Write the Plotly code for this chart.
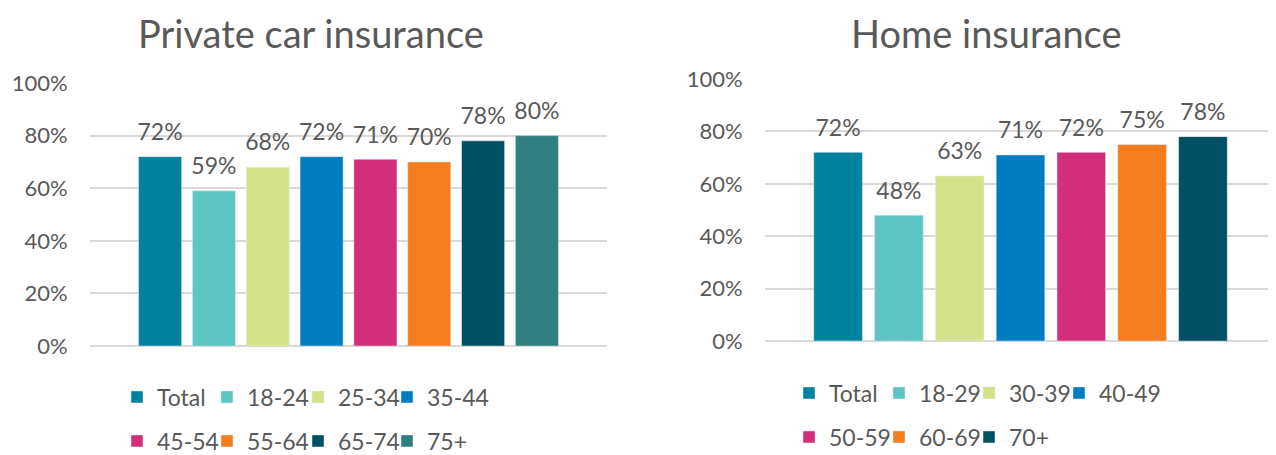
import plotly.graph_objects as go

car_groups = ["Total", "18-24", "25-34", "35-44", "45-54", "55-64", "65-74", "75+"]
car_values = [72, 59, 68, 72, 71, 70, 78, 80]

home_groups = ["Total", "18-29", "30-39", "40-49", "50-59", "60-69", "70+"]
home_values = [72, 48, 63, 71, 72, 75, 78]

colors = ["#00829F", "#5FC5C2", "#D4E38A", "#007CC3",
          "#D22F7B", "#F47D20", "#004F62", "#2E7F7E"]

grey = "#595959"

# the page body adds an 8px margin, so the figure is drawn 8px smaller
# and every pixel position below is taken from the 1276x455 layout minus 8
OFF = 8
W, H = 1276 - OFF, 455 - OFF


def px(x):
    return (x - OFF) / W


def py(y):
    return 1 - (y - OFF) / H


# legend spots (left edge of the swatch, row centre) in page pixels
car_cols = [141, 231, 322, 411]
car_rows = [397, 441]
home_cols = [813, 903, 993, 1083]
home_rows = [393, 437]

fig = go.Figure()
legends = {}


def label(v):
    # small blank second line lifts the label off the bar like Excel does
    return f"<span style='font-size:23px'>{v}%</span><br> "


n = 1
for i, (g, v) in enumerate(zip(car_groups, car_values)):
    n += 1
    key = f"legend{n}"
    legends[key] = dict(x=px(car_cols[i % 4] - 24), y=py(car_rows[i // 4]))
    fig.add_trace(go.Bar(
        x=["car"], y=[v], name=g,
        marker_color=colors[i],
        text=[label(v)], textposition="outside", constraintext="none",
        textfont=dict(size=9, color=grey),
        cliponaxis=False,
        xaxis="x", yaxis="y", legend=key,
    ))

for i, (g, v) in enumerate(zip(home_groups, home_values)):
    n += 1
    key = f"legend{n}"
    legends[key] = dict(x=px(home_cols[i % 4] - 24), y=py(home_rows[i // 4]))
    fig.add_trace(go.Bar(
        x=["home"], y=[v], name=g,
        marker_color=colors[i],
        text=[label(v)], textposition="outside", constraintext="none",
        textfont=dict(size=9, color=grey),
        cliponaxis=False,
        xaxis="x2", yaxis="y2", legend=key,
    ))

yax = dict(range=[0, 100], dtick=20, ticksuffix="%",
           showgrid=True, gridcolor="#D9D9D9", gridwidth=1.5,
           zeroline=True, zerolinecolor="#D9D9D9", zerolinewidth=1.5,
           showline=False, ticks="outside", ticklen=17,
           tickcolor="rgba(0,0,0,0)", tickfont=dict(size=22, color=grey))
xax = dict(showticklabels=False, showgrid=False, zeroline=False, showline=False)

for key, pos in legends.items():
    legends[key] = dict(orientation="h", xanchor="left", yanchor="middle",
                        font=dict(size=23, color=grey), bgcolor="rgba(0,0,0,0)",
                        **pos)

fig.update_layout(
    width=W, height=H,
    margin=dict(l=0, r=0, t=0, b=0, autoexpand=False),
    paper_bgcolor="white", plot_bgcolor="white",
    font=dict(family="Lato", color=grey),
    barmode="group", bargap=0.167, bargroupgap=0.2,
    xaxis=dict(domain=[px(90), px(607)], **xax),
    xaxis2=dict(domain=[px(765), 1.0], **xax),
    yaxis=dict(domain=[py(346), py(83)], anchor="x", **yax),
    yaxis2=dict(domain=[py(341), py(79)], anchor="x2", **yax),
    annotations=[
        dict(text="Private car insurance", x=px(311), y=1,
             xref="paper", yref="paper", showarrow=False,
             xanchor="center", yanchor="top",
             font=dict(size=38, color=grey)),
        dict(text="Home insurance", x=px(986), y=1,
             xref="paper", yref="paper", showarrow=False,
             xanchor="center", yanchor="top",
             font=dict(size=38, color=grey)),
    ],
    **legends,
)

fig.write_html("out.html")
